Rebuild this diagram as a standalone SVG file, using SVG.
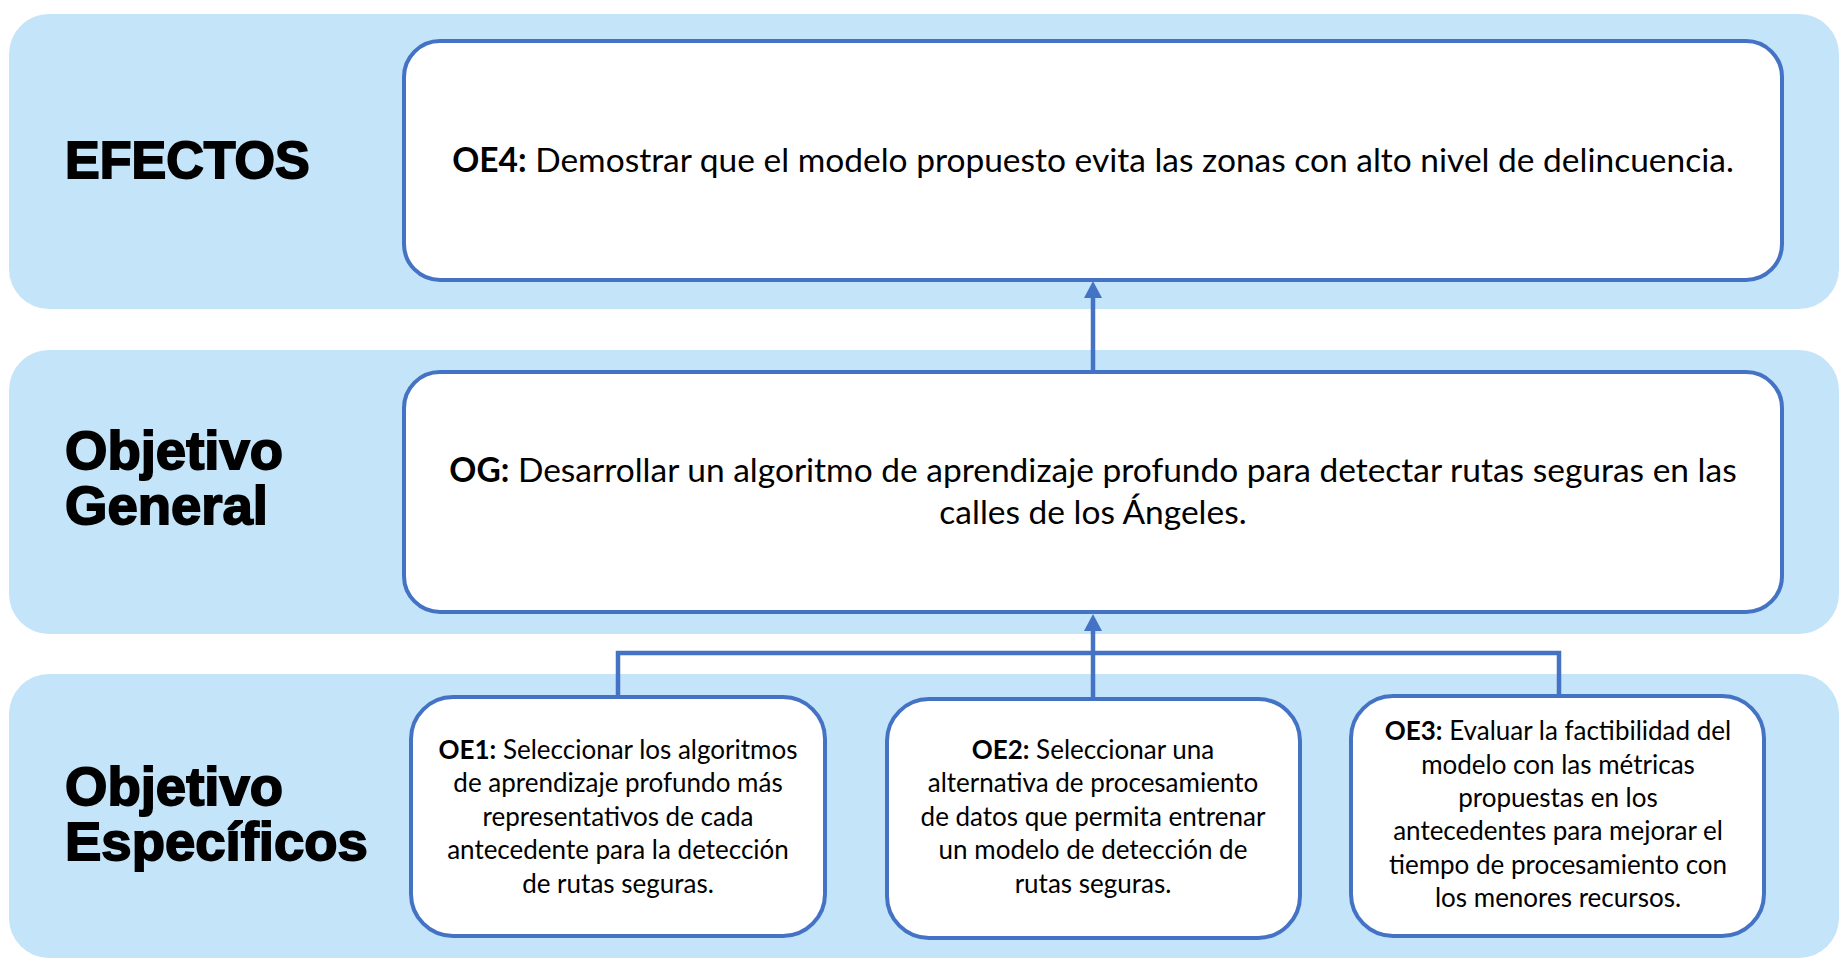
<svg xmlns="http://www.w3.org/2000/svg" width="1848" height="972" viewBox="0 0 1848 972">
<defs>
<style>
.band{fill:#C3E4F9;}
.box{fill:#FFFFFF;stroke:#4472C4;stroke-width:4;}
.title{font-family:"Liberation Sans",Arial,sans-serif;font-weight:bold;font-size:54.5px;fill:#000;stroke:#000;stroke-width:1.8;}
.t{font-family:Lato,"Liberation Sans",sans-serif;font-size:26px;fill:#000;text-anchor:middle;}
.tb{font-family:Lato,"Liberation Sans",sans-serif;font-size:33.5px;fill:#000;text-anchor:middle;}
.b{font-weight:bold;}
.conn{fill:none;stroke:#4472C4;stroke-width:4.5;}
.head{fill:#4472C4;}
</style>
</defs>
<rect class="band" x="9" y="14" width="1830" height="295" rx="40"/>
<rect class="band" x="9" y="350" width="1830" height="284" rx="40"/>
<rect class="band" x="9" y="674" width="1830" height="284" rx="40"/>
<text class="title" x="65" y="178" style="font-size:52px">EFECTOS</text>
<text class="title" x="65" y="469">Objetivo</text>
<text class="title" x="65" y="524">General</text>
<text class="title" x="65" y="805">Objetivo</text>
<text class="title" x="65" y="860">Específicos</text>
<g id="connectors">
<line class="conn" x1="1093" y1="372" x2="1093" y2="294"/>
<polygon class="head" points="1093,281 1084,298 1102,298"/>
<line class="conn" x1="1093" y1="700" x2="1093" y2="627"/>
<polygon class="head" points="1093,614 1084,631 1102,631"/>
<polyline class="conn" points="618,697 618,653 1559,653 1559,696"/>
</g>
<g id="OE4">
<rect class="box" x="404" y="41" width="1378" height="239" rx="36"/>
<text class="tb" x="1093" y="172"><tspan class="b">OE4:</tspan> Demostrar que el modelo propuesto evita las zonas con alto nivel de delincuencia.</text>
</g>
<g id="OG">
<rect class="box" x="404" y="372" width="1378" height="240" rx="36"/>
<text class="tb" x="1093" y="482"><tspan class="b">OG:</tspan> Desarrollar un algoritmo de aprendizaje profundo para detectar rutas seguras en las</text>
<text class="tb" x="1093" y="524">calles de los Ángeles.</text>
</g>
<g id="OE1">
<rect class="box" x="411" y="697" width="414" height="239" rx="42"/>
<text class="t" x="618" y="759"><tspan class="b">OE1:</tspan> Seleccionar los algoritmos</text>
<text class="t" x="618" y="792">de aprendizaje profundo más</text>
<text class="t" x="618" y="826">representativos de cada</text>
<text class="t" x="618" y="859">antecedente para la detección</text>
<text class="t" x="618" y="893">de rutas seguras.</text>
</g>
<g id="OE2">
<rect class="box" x="887" y="699" width="413" height="239" rx="42"/>
<text class="t" x="1093" y="759"><tspan class="b">OE2:</tspan> Seleccionar una</text>
<text class="t" x="1093" y="792">alternativa de procesamiento</text>
<text class="t" x="1093" y="826">de datos que permita entrenar</text>
<text class="t" x="1093" y="859">un modelo de detección de</text>
<text class="t" x="1093" y="893">rutas seguras.</text>
</g>
<g id="OE3">
<rect class="box" x="1351" y="696" width="413" height="240" rx="42"/>
<text class="t" x="1558" y="740"><tspan class="b">OE3:</tspan> Evaluar la factibilidad del</text>
<text class="t" x="1558" y="774">modelo con las métricas</text>
<text class="t" x="1558" y="807">propuestas en los</text>
<text class="t" x="1558" y="840">antecedentes para mejorar el</text>
<text class="t" x="1558" y="874">tiempo de procesamiento con</text>
<text class="t" x="1558" y="907">los menores recursos.</text>
</g>
</svg>
